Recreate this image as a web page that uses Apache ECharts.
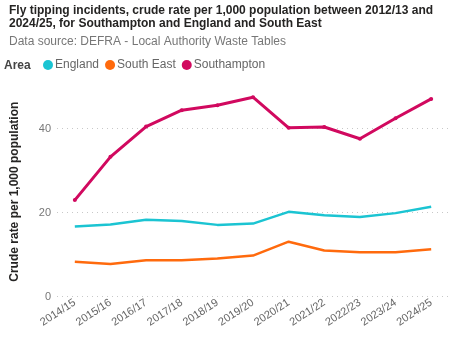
<!DOCTYPE html>
<html>
<head>
<meta charset="utf-8">
<script src="https://cdn.jsdelivr.net/npm/echarts@6/dist/echarts.min.js"></script>
<style>
  html, body { margin: 0; padding: 0; background: #fff; }
  #chart { width: 449px; height: 344px; }
</style>
</head>
<body>
<div id="chart"></div>
<script>
// data
var years = ['2014/15', '2015/16', '2016/17', '2017/18', '2018/19', '2019/20',
             '2020/21', '2021/22', '2022/23', '2023/24', '2024/25'];
var england = [16.7, 17.2, 18.3, 18.0, 17.1, 17.4, 20.2, 19.4, 19.0, 19.9, 21.4];
var southEast = [8.3, 7.8, 8.7, 8.7, 9.1, 9.8, 13.1, 11.0, 10.6, 10.6, 11.3];
var southampton = [23.0, 33.3, 40.5, 44.4, 45.6, 47.5, 40.2, 40.4, 37.6, 42.5, 47.1];

var font = 'Liberation Sans, Arial, sans-serif';

var myChart = echarts.init(document.getElementById('chart'));
var options = {
  animation: false,
  textStyle: { fontFamily: font },
  title: {
    text: 'Fly tipping incidents, crude rate per 1,000 population between 2012/13 and\n2024/25, for Southampton and England and South East',
    subtext: 'Data source: DEFRA - Local Authority Waste Tables',
    left: 4, top: -1, itemGap: 6,
    textStyle: { fontSize: 12, fontWeight: 'bold', color: '#252423', lineHeight: 13, fontFamily: font },
    subtextStyle: { fontSize: 12, color: '#777777', fontFamily: font }
  },
  graphic: [{
    type: 'text', left: 4, top: 60,
    style: { text: 'Area', fontSize: 12, fontWeight: 'bold', fill: '#444', fontFamily: font }
  }],
  legend: {
    left: 38, top: 54,
    icon: 'circle', itemWidth: 10, itemHeight: 10, itemGap: 6,
    textStyle: { fontSize: 12, color: '#666', padding: [0, 0, 0, -3] },
    data: ['England', 'South East', 'Southampton']
  },
  grid: { left: 57, right: -5, top: 86.7, bottom: 47.3 },
  xAxis: {
    type: 'category',
    data: years,
    boundaryGap: true,
    axisLine: { show: false },
    axisTick: { show: false },
    axisLabel: { rotate: 33, color: '#666', fontSize: 11, margin: 5, interval: 0 }
  },
  yAxis: {
    type: 'value',
    min: 0, max: 50, interval: 20,
    name: 'Crude rate per 1,000 population',
    nameLocation: 'middle', nameGap: 36,
    nameTextStyle: { fontSize: 12, fontWeight: 'bold', color: '#252423' },
    axisLabel: { color: '#777', fontSize: 11, margin: 6, showMaxLabel: false },
    splitLine: { lineStyle: { type: [1, 4], color: ['#c8c8c8', '#c8c8c8', '#c8c8c8', 'transparent'] } }
  },
  series: [{
    name: 'England', type: 'line', data: england,
    color: '#1bc4d2', symbol: 'none', lineStyle: { width: 2.5 }
  }, {
    name: 'South East', type: 'line', data: southEast,
    color: '#ff6a0d', symbol: 'none', lineStyle: { width: 2.5 }
  }, {
    name: 'Southampton', type: 'line', data: southampton,
    color: '#d1095f', symbol: 'circle', symbolSize: 4, lineStyle: { width: 3 }
  }]
};
myChart.setOption(options);
</script>
</body>
</html>
